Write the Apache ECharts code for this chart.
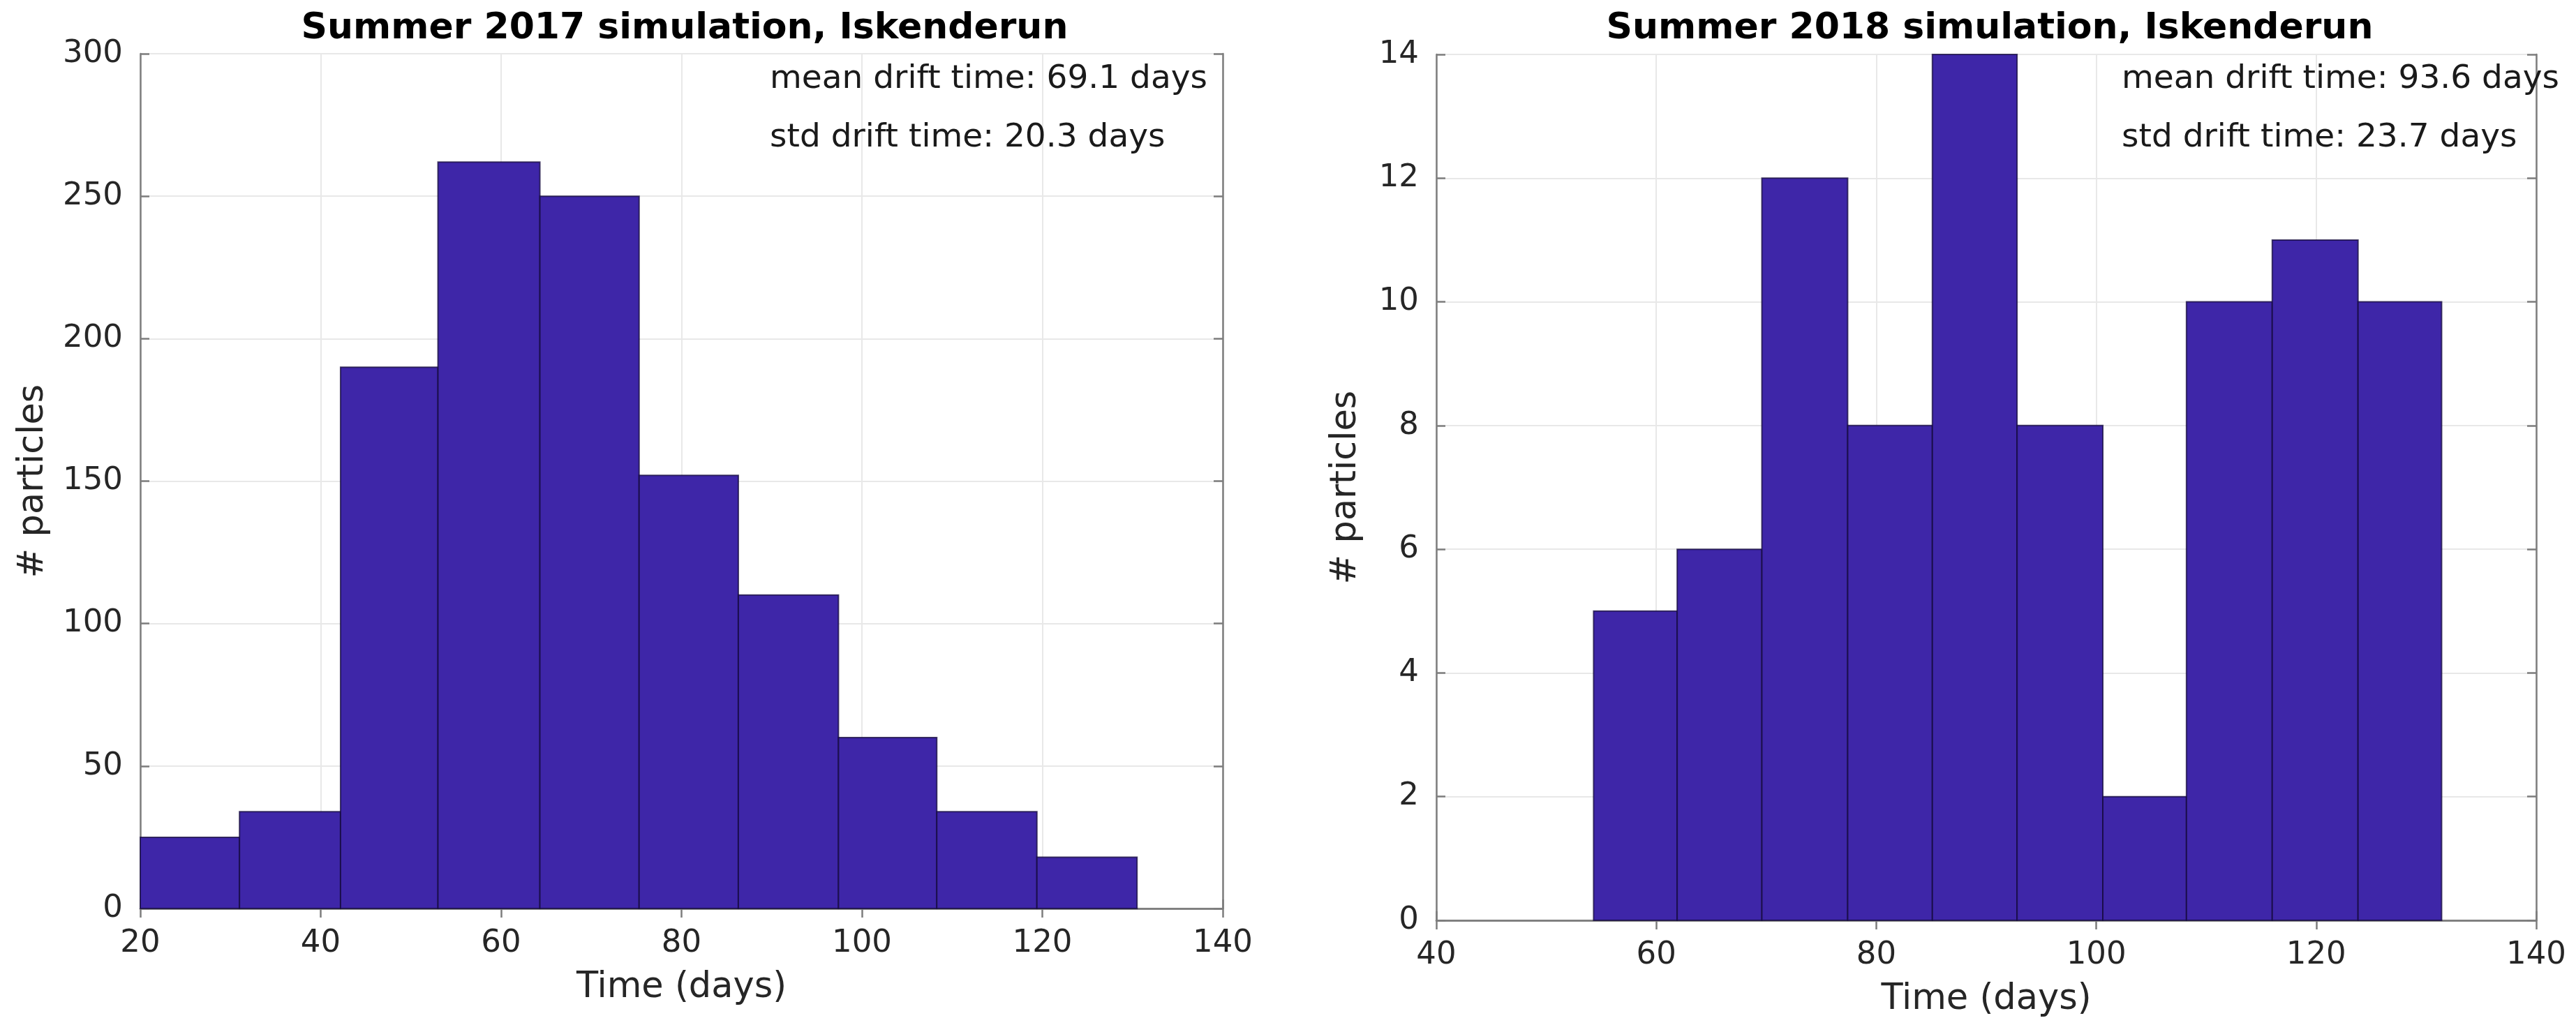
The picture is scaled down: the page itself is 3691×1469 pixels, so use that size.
<!DOCTYPE html>
<html>
<head>
<meta charset="utf-8">
<script src="https://cdn.jsdelivr.net/npm/echarts@6/dist/echarts.min.js"></script>
<style>
  html, body { margin: 0; padding: 0; background: #fff; }
  #chart { width: 3691px; height: 1469px; }
</style>
</head>
<body>
<div id="chart"></div>
<script>
// bin edges and counts
var edges2017 = [20, 31.0, 42.2, 53.0, 64.3, 75.3, 86.3, 97.4, 108.3, 119.4, 130.5];
var counts2017 = [25, 34, 190, 262, 250, 152, 110, 60, 34, 18];
var edges2018 = [54.3, 61.9, 69.6, 77.4, 85.1, 92.8, 100.6, 108.2, 116.0, 123.8, 131.4];
var counts2018 = [5, 6, 12, 8, 14, 8, 2, 10, 11, 10];

var titles = ['Summer 2017 simulation, Iskenderun', 'Summer 2018 simulation, Iskenderun'];
var notes2017 = ['mean drift time: 69.1 days', 'std drift time: 20.3 days'];
var notes2018 = ['mean drift time: 93.6 days', 'std drift time: 23.7 days'];

var FONT = 'DejaVu Sans';
var barColor = '#3e26a8';
var axisColor = '#7d7d7d';
var textColor = '#262626';

function bins(edges, counts) {
    var out = [];
    for (var i = 0; i < counts.length; i++) {
        out.push([edges[i], edges[i + 1], counts[i]]);
    }
    return out;
}

function renderBin(params, api) {
    var p0 = api.coord([api.value(0), 0]);
    var p1 = api.coord([api.value(1), api.value(2)]);
    return {
        type: 'rect',
        shape: { x: p0[0], y: p1[1], width: p1[0] - p0[0], height: p0[1] - p1[1] },
        style: { fill: barColor, stroke: 'rgba(20,10,60,0.75)', lineWidth: 2 }
    };
}

function mainX(gi, min, max, gap) {
    return {
        type: 'value', gridIndex: gi, min: min, max: max, interval: 20,
        name: 'Time (days)', nameLocation: 'middle', nameGap: gap,
        nameTextStyle: { fontFamily: FONT, fontSize: 51, color: textColor },
        axisLine: { lineStyle: { color: axisColor, width: 2.5 } },
        axisTick: { inside: true, length: 13, lineStyle: { color: axisColor, width: 2.5 } },
        axisLabel: { fontFamily: FONT, fontSize: 45, color: textColor, margin: 28 },
        splitLine: { show: true, lineStyle: { color: '#e8e8e8', width: 2 } }
    };
}
function boxX(gi, min, max) {
    return {
        type: 'value', gridIndex: gi, min: min, max: max, interval: 20, position: 'top',
        axisLine: { lineStyle: { color: axisColor, width: 2.5 } },
        axisTick: { inside: true, length: 13, lineStyle: { color: axisColor, width: 2.5 } },
        axisLabel: { show: false }, splitLine: { show: false }
    };
}
function mainY(gi, max, interval, gap) {
    return {
        type: 'value', gridIndex: gi, min: 0, max: max, interval: interval,
        name: '# particles', nameLocation: 'middle', nameGap: gap,
        nameTextStyle: { fontFamily: FONT, fontSize: 51, color: textColor },
        axisLine: { show: true, lineStyle: { color: axisColor, width: 2.5 } },
        axisTick: { show: true, inside: true, length: 13, lineStyle: { color: axisColor, width: 2.5 } },
        axisLabel: { fontFamily: FONT, fontSize: 45, color: textColor, margin: 25 },
        splitLine: { show: true, lineStyle: { color: '#e8e8e8', width: 2 } }
    };
}
function boxY(gi, max, interval) {
    return {
        type: 'value', gridIndex: gi, min: 0, max: max, interval: interval, position: 'right',
        axisLine: { show: true, lineStyle: { color: axisColor, width: 2.5 } },
        axisTick: { show: true, inside: true, length: 13, lineStyle: { color: axisColor, width: 2.5 } },
        axisLabel: { show: false }, splitLine: { show: false }
    };
}

function note(x, y, str) {
    return {
        type: 'text', left: x, top: y, z: 10,
        style: { text: str, fontFamily: FONT, fontSize: 47, fill: '#1a1a1a' }
    };
}

var chart = echarts.init(document.getElementById('chart'));
chart.setOption({
    backgroundColor: '#fff',
    animation: false,
    title: [
        { text: titles[0], left: 976, textAlign: 'center', top: 10,
          textStyle: { fontFamily: FONT, fontSize: 52, fontWeight: 'bold', color: '#000' } },
        { text: titles[1], left: 2846, textAlign: 'center', top: 10,
          textStyle: { fontFamily: FONT, fontSize: 52, fontWeight: 'bold', color: '#000' } }
    ],
    grid: [
        { left: 201, top: 77, width: 1551, height: 1225 },
        { left: 2058, top: 78, width: 1576, height: 1241 }
    ],
    xAxis: [
        mainX(0, 20, 140, 88),
        boxX(0, 20, 140),
        mainX(1, 40, 140, 88),
        boxX(1, 40, 140)
    ],
    yAxis: [
        mainY(0, 300, 50, 128),
        boxY(0, 300, 50),
        mainY(1, 14, 2, 104),
        boxY(1, 14, 2)
    ],
    series: [
        { type: 'custom', xAxisIndex: 0, yAxisIndex: 0, renderItem: renderBin,
          encode: { x: [0, 1], y: 2 }, data: bins(edges2017, counts2017) },
        { type: 'custom', xAxisIndex: 2, yAxisIndex: 2, renderItem: renderBin,
          encode: { x: [0, 1], y: 2 }, data: bins(edges2018, counts2018) }
    ],
    graphic: [
        note(1103, 90, notes2017[0]),
        note(1103, 174, notes2017[1]),
        note(3040, 90, notes2018[0]),
        note(3040, 174, notes2018[1])
    ]
});
</script>
</body>
</html>
